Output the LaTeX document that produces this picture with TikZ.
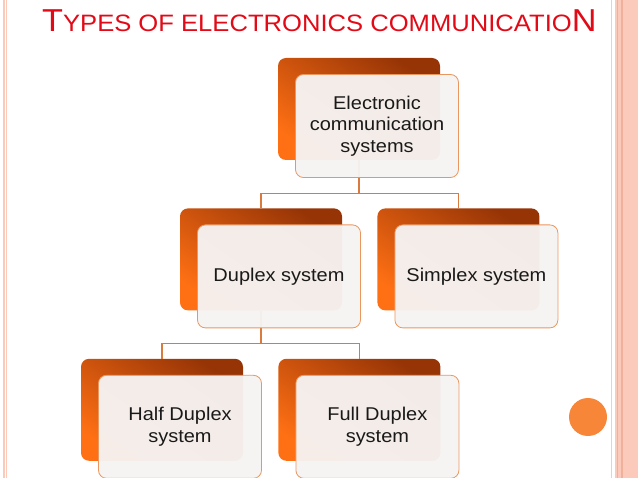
\documentclass[tikz,border=0pt]{standalone}
\usepackage{fontspec}
\setmainfont[FakeStretch=1.08]{Liberation Sans}
\usetikzlibrary{shapes,arrows,positioning}
\definecolor{TitleRed}{RGB}{226,10,22}
\definecolor{BoxDark}{RGB}{150,52,6}
\definecolor{BoxBright}{RGB}{255,112,20}
\definecolor{FrontFill}{RGB}{246,243,242}
\definecolor{FrontLine}{RGB}{234,150,95}
\definecolor{LinkLine}{RGB}{217,122,62}
\definecolor{Strip}{RGB}{251,202,186}
\definecolor{StripDark}{RGB}{241,176,154}
\definecolor{Dot}{RGB}{247,134,56}
\tikzstyle{Back} = [rectangle, rounded corners=8pt, minimum width=162pt, minimum height=102pt, inner sep=0pt, top color=BoxDark, bottom color=BoxBright, shading angle=-35]
\tikzstyle{Front} = [rectangle, rounded corners=8pt, draw=FrontLine, line width=0.8pt, fill=FrontFill, fill opacity=0.96, text opacity=1, minimum width=163pt, minimum height=103pt, inner sep=2pt, align=center, text=black!90, font=\fontsize{18.5}{21.5}\selectfont]
\tikzstyle{Link} = [draw=LinkLine, line width=1.3pt]
\begin{document}
\begin{tikzpicture}[x=1pt, y=-1pt]
    \useasboundingbox (0,0) rectangle (638,478);
    % page border strips
    \draw[Strip, line width=1.2pt] (4,0) -- (4,478);
    \draw[Strip, line width=1.2pt] (6.5,0) -- (6.5,478);
    \draw[Strip, line width=1pt] (611,0) -- (611,478);
    \fill[Strip] (615,0) rectangle (638,478);
    \draw[StripDark, line width=1.5pt] (617.5,0) -- (617.5,478);
    \draw[StripDark, line width=1.2pt] (622,0) -- (622,478);
    \node[circle, fill=Dot, minimum size=38pt, inner sep=0pt] (dot) at (588,417) {};
    \node[anchor=base west, inner sep=0pt, text=TitleRed] (title) at (42,32)
      {\fontsize{31.7}{32}\selectfont T\fontsize{23.7}{24}\selectfont YPES OF ELECTRONICS COMMUNICATIO\fontsize{31.7}{32}\selectfont N};
    \node[Back] (ecsB) at (359,109)                      {};
    \node[Back] (duplexB)  [below=48pt of ecsB, xshift=-98pt]    {};
    \node[Back] (simplexB) [right=35pt of duplexB]               {};
    \node[Back] (halfB)    [below=48pt of duplexB, xshift=-99pt] {};
    \node[Back] (fullB)    [right=35pt of halfB]                 {};
    \draw[Link] (ecsB.south) -- ++(0,33) -| (duplexB.north);
    \draw[Link] (ecsB.south) -- ++(0,33) -| (simplexB.north);
    \draw[Link] (duplexB.south) -- ++(0,33) -| (halfB.north);
    \draw[Link] (duplexB.south) -- ++(0,33) -| (fullB.north);
    \node[Front] (ecs)     at ([shift={(18pt,-17pt)}]ecsB)     {Electronic\\communication\\systems};
    \node[Front] (duplex)  at ([shift={(18pt,-17pt)}]duplexB)  {Duplex system};
    \node[Front] (simplex) at ([shift={(18pt,-17pt)}]simplexB) {Simplex system};
    \node[Front] (half)    at ([shift={(18pt,-17pt)}]halfB)    {Half Duplex\\system};
    \node[Front] (full)    at ([shift={(18pt,-17pt)}]fullB)    {Full Duplex\\system};
\end{tikzpicture}
\end{document}
